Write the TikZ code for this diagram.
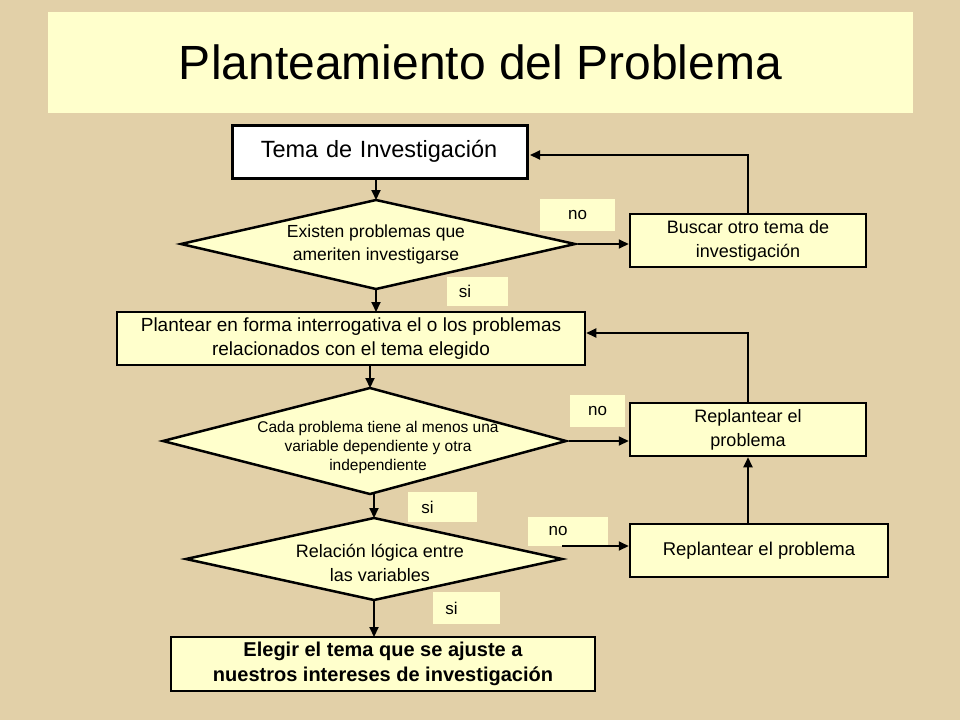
\documentclass[tikz,border=0pt]{standalone}
\usepackage{fontspec}
\setmainfont{Liberation Sans}
\usetikzlibrary{shapes.geometric,arrows.meta}
\definecolor{parch}{RGB}{226,208,168}
\definecolor{pale}{RGB}{255,255,204}
\tikzset{
 box/.style={draw=black,line width=2.5pt,fill=pale,align=center,inner sep=0pt},
 dia/.style={draw=black,line width=2.5pt,fill=pale,align=center},
 lab/.style={fill=pale,inner sep=0pt,font=\fontsize{17}{20}\selectfont},
 arr/.style={-{Triangle[length=10pt,width=9pt]},line width=2pt},
}
\begin{document}
\begin{tikzpicture}[x=1pt,y=-1pt]
\fill[parch] (0,0) rectangle (960,720);
\useasboundingbox (0,0) rectangle (960,720);
\node[fill=pale,minimum width=865,minimum height=101,inner sep=0pt,font=\fontsize{48}{54}\selectfont] (title) at (480.5,62.5) {Planteamiento del Problema};
\node[box,fill=white,minimum width=295,minimum height=53,text width=270,align=left,font=\fontsize{23.5}{28}\selectfont,anchor=north west] (tema) at (231,124) {\hspace*{16pt}Tema de Investigación};
% diamond 1
\draw[dia] (181,244) -- (376,200) -- (575,244) -- (376,289) -- cycle;
\coordinate (d1t) at (376,200); \coordinate (d1r) at (578,244); \coordinate (d1b) at (376,289);
\node[align=center,font=\fontsize{17.5}{23}\selectfont] (d1) at (376,244) {Existen problemas que\\ameriten investigarse};
\node[box,minimum width=236,minimum height=53,font=\fontsize{18}{24}\selectfont] (busc) at (748,240.5) {Buscar otro tema de\\investigación};
\node[lab,minimum width=75,minimum height=32] (no1) at (577.5,215) {no};
\node[lab,minimum width=61,minimum height=29] (si1) at (477.5,291.5) {\hspace{-25pt}si};
\node[box,minimum width=468,minimum height=53,font=\fontsize{19}{24}\selectfont] (plant) at (351,338.5) {Plantear en forma interrogativa  el o los problemas\\relacionados con el tema elegido};
% diamond 2
\draw[dia] (163,441) -- (370,388) -- (566,441) -- (370,494) -- cycle;
\coordinate (d2t) at (370,388); \coordinate (d2r) at (569,441); \coordinate (d2b) at (374,494);
\node[align=center,font=\fontsize{15.5}{19}\selectfont] (d2) at (378,447) {Cada problema tiene al menos una\\variable dependiente y otra\\independiente};
\node[lab,minimum width=55,minimum height=32] (no2) at (597.5,411) {no};
\node[box,minimum width=236,minimum height=53,font=\fontsize{18}{24}\selectfont] (rep1) at (748,429.5) {Replantear el\\problema};
\node[lab,minimum width=69,minimum height=30] (si2) at (442.5,507) {\hspace{-30pt}si};
% diamond 3
\draw[dia] (186,559) -- (374,518) -- (562,559) -- (374,600) -- cycle;
\coordinate (d3t) at (374,518); \coordinate (d3r) at (562,546); \coordinate (d3b) at (374,600);
\node[align=center,font=\fontsize{18}{24}\selectfont] (d3) at (380,563) {Relación lógica entre\\las variables};
\node[lab,minimum width=80,minimum height=29] (no3) at (568,531.5) {\hspace{-20pt}no};
\node[box,minimum width=258,minimum height=53,font=\fontsize{18.5}{24}\selectfont] (rep2) at (759,550.5) {Replantear el problema};
\node[lab,minimum width=67,minimum height=32] (si3) at (466.5,608) {\hspace{-30pt}si};
\node[box,minimum width=424,minimum height=54,font=\bfseries\fontsize{20}{25}\selectfont] (eleg) at (383,664) {Elegir el tema que se ajuste a\\nuestros intereses de investigación};
% arrows
\draw[arr] (376,177) -- (d1t);
\draw[arr] (d1r) -- (busc.west |- d1r);
\draw[arr] (busc.north) |- (530,155);
\draw[arr] (d1b) -- (376,312);
\draw[arr] (370,365) -- (d2t);
\draw[arr] (d2r) -- (rep1.west |- d2r);
\draw[arr] (rep1.north) |- (plant.east |- 0,333);
\draw[arr] (d2b) -- (d3t);
\draw[arr] (d3r) -- (rep2.west |- d3r);
\draw[arr] (rep2.north -| rep1.south) -- (rep1.south);
\draw[arr] (d3b) -- (374,637);
\end{tikzpicture}
\end{document}
